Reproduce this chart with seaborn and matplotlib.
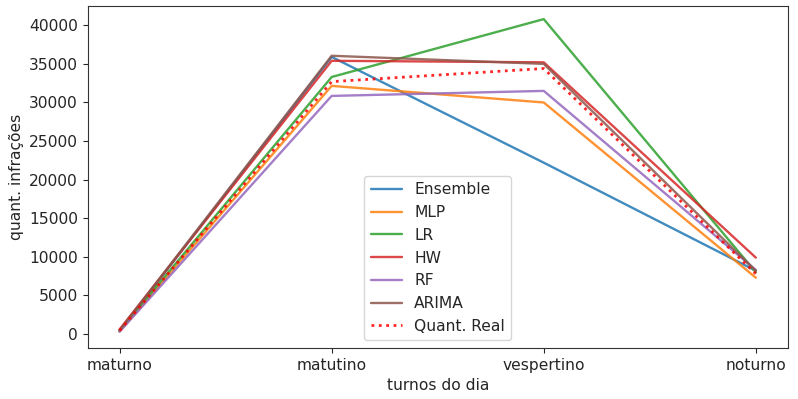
import numpy as np
import pandas as pd
import matplotlib
matplotlib.use('Agg')
import matplotlib.pyplot as plt
import seaborn as sns

# turnos do dia
turnos = ['maturno', 'matutino', 'vespertino', 'noturno']

# valores
ensemble = [400, 35900, 22200, 8200]
mlp = [350, 32150, 30000, 7300]
lr = [450, 33300, 40800, 8000]
hw = [600, 35400, 35200, 9900]
rf = [300, 30850, 31500, 8300]
arima = [500, 36050, 35000, 8200]
quant_real = [450, 32700, 34400, 7800]

series = {
    'Ensemble': ensemble,
    'MLP': mlp,
    'LR': lr,
    'HW': hw,
    'RF': rf,
    'ARIMA': arima,
}

sns.set_style('ticks')
plt.rcParams['font.family'] = ['DejaVu Sans']
plt.rcParams['font.size'] = 11.2
plt.rcParams['axes.edgecolor'] = '#333333'

fig = plt.figure(figsize=(7.98, 3.99), dpi=100)
ax = fig.add_axes([0.110, 0.128, 0.877, 0.857])

cores = sns.color_palette('tab10')
for i, (nome, vals) in enumerate(series.items()):
    sns.lineplot(x=turnos, y=vals, ax=ax, color=cores[i], label=nome,
                 linewidth=1.7, alpha=0.85, sort=False)

sns.lineplot(x=turnos, y=quant_real, ax=ax, color='red', label='Quant. Real',
             linewidth=2, linestyle=':', alpha=0.85, sort=False)

ax.set_xlabel('turnos do dia', fontsize=11.2)
ax.set_ylabel('quant. infrações', fontsize=11.2)
ax.tick_params(labelsize=11.2)
ax.set_ylim(-1800, 42500)
ax.set_yticks(np.arange(0, 40001, 5000))
ax.margins(x=0.05)
ax.legend(loc='lower center', fontsize=11.2)

fig.savefig('out.png', dpi=100)
